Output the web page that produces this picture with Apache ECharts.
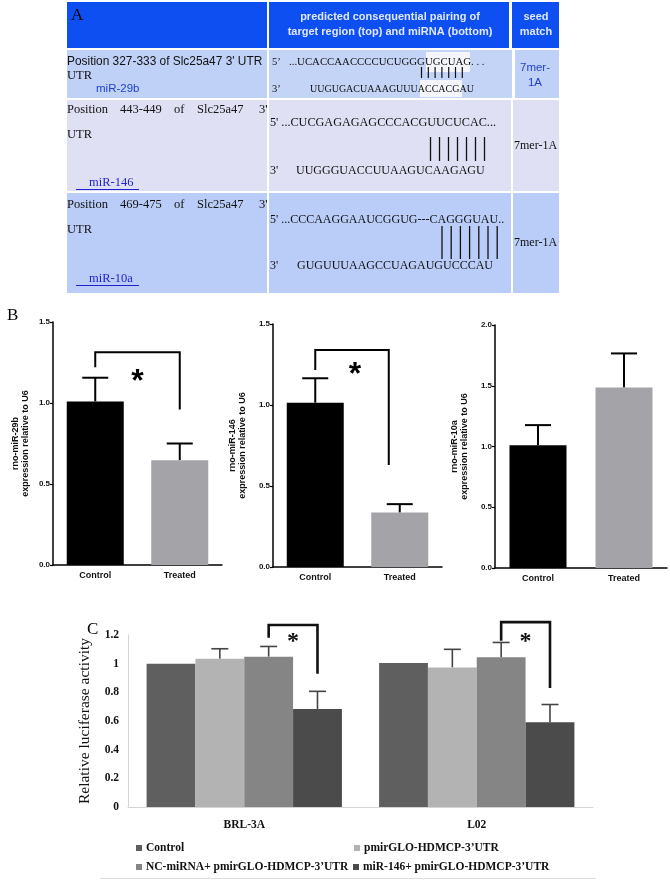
<!DOCTYPE html>
<html><head><meta charset="utf-8">
<script src="https://cdn.jsdelivr.net/npm/echarts@6/dist/echarts.min.js"></script>
<style>html,body{margin:0;padding:0;background:#fff}#c{width:670px;height:884px}</style>
</head><body><div id="c"></div>
<script>
// ---------- Panel B data ----------
const bCategories = ['Control', 'Treated'];
const bBarColors = ['#000000', '#a3a3a8'];
const b1Values = [1.01, 0.647];
const b1Upper  = [1.156, 0.75];
const b2Values = [1.014, 0.336];
const b2Upper  = [1.165, 0.388];
const b3Values = [1.011, 1.486];
const b3Upper  = [1.176, 1.766];
const bYMax = [1.5, 1.5, 2.0];
const bAxisNames = [
  'rno-miR-29b\nexpression relative to U6',
  'rno-miR-146\nexpression relative to U6',
  'rno-miR-10a\nexpression relative to U6'
];
// bracket: [xLeft(cat units), xRight, top, leftBottom, rightBottom, starX, starY]
const b1Bracket = [0, 1, 1.314, 1.22, 0.96, 0.5, 1.17];
const b2Bracket = [0, 0.87, 1.34, 1.216, 0.63, 0.47, 1.227];

// ---------- Panel C data ----------
const cCategories = ['BRL-3A', 'L02'];
const cSeriesNames = ['Control', 'pmirGLO-HDMCP-3\u2019UTR', 'NC-miRNA+ pmirGLO-HDMCP-3\u2019UTR', 'miR-146+ pmirGLO-HDMCP-3\u2019UTR'];
const cColors = ['#5f5f5f', '#b3b3b3', '#858585', '#4b4b4b'];
const cControl = [1.0, 1.005];
const cPmir    = [1.035, 0.974];
const cNC      = [1.049, 1.044];
const cMiR146  = [0.684, 0.592];
const cPmirUpper   = [1.104, 1.10];
const cNCUpper     = [1.12, 1.148];
const cMiR146Upper = [0.807, 0.715];
const cYTicks = [0, 0.2, 0.4, 0.6, 0.8, 1, 1.2];
// bracket: [category, leftBar, rightBar, top, leftBottom, rightBottom, starY]
const cBracketBRL = [0, 2, 3, 1.27, 1.18, 0.93, 1.18];
const cBracketL02 = [1, 2, 3, 1.29, 1.16, 0.83, 1.18];

const SANS = '"Liberation Sans", Arial, sans-serif';
const NARROW = '"Liberation Sans Narrow", "Liberation Sans", Arial, sans-serif';
const SERIF = '"Liberation Serif", "Times New Roman", serif';

// ---------- helpers ----------
function T(text, x, y, font, fill, align) {
  return { type: 'text', silent: true, style: {
    text: text, x: x, y: y, font: font, fill: fill || '#000',
    align: align || 'left', verticalAlign: 'middle',
    textAlign: align || 'left', textVerticalAlign: 'middle' } };
}
function R(x, y, w, h, fill) {
  return { type: 'rect', silent: true, shape: { x: x, y: y, width: w, height: h }, style: { fill: fill } };
}
function L(x1, y1, x2, y2, stroke, lw) {
  return { type: 'line', silent: true, shape: { x1: x1, y1: y1, x2: x2, y2: y2 }, style: { stroke: stroke || '#000', lineWidth: lw || 1 } };
}
function pairLines(x0, step, n, y1, y2, lw) {
  const out = [];
  for (let i = 0; i < n; i++) out.push(L(x0 + i * step, y1, x0 + i * step, y2, '#111', lw || 1.2));
  return out;
}

// ---------- Panel A table (graphic) ----------
const HEAD = '#0d4ff0';
const ROW1 = '#bfd1f7';
const ROW2 = '#e0e0f5';
const ROW3 = '#b9cdf8';
const headFont = 'bold 11px ' + SANS;
const blue = '#1f3fc8';
const linkBlue = '#2323cc';
let tableEls = [
  R(67, 2, 200, 46, HEAD), R(269, 2, 240, 46, HEAD), R(512, 2, 47, 46, HEAD),
  R(67, 50, 200, 48, ROW1), R(269, 50, 243, 48, '#c4d4f6'), R(515, 50, 44, 48, ROW1),
  R(67, 100, 200, 91, ROW2), R(269, 100, 242, 91, ROW2), R(513, 100, 46, 91, ROW2),
  R(67, 193, 200, 100, ROW3), R(269, 193, 242, 100, ROW3), R(513, 193, 46, 100, ROW3),
  // white highlights in row 1
  R(426, 52, 44, 20, '#f4f6fc'), R(420, 80, 42, 17, '#f4f6fc'),
  T('A', 71, 16, '17px ' + SERIF, '#000'),
  T('predicted consequential pairing of', 390, 17, headFont, '#dfe8ff', 'center'),
  T('target region (top) and miRNA (bottom)', 390, 32, headFont, '#dfe8ff', 'center'),
  T('seed', 536, 17, headFont, '#dfe8ff', 'center'),
  T('match', 536, 32, headFont, '#dfe8ff', 'center'),
  // row 1
  T('Position 327-333 of Slc25a47 3\' UTR', 67, 62, '11.9px ' + SANS, '#111'),
  T('UTR', 67, 76, '12.5px ' + SERIF, '#111'),
  T('miR-29b', 96, 89, '11.5px ' + SANS, blue),
  T('5\u2019', 272, 62, '10.5px ' + SERIF, '#111'),
  T('3\u2019', 272, 89, '10.5px ' + SERIF, '#111'),
  T('...UCACCAACCCCUCUGGGUGCUAG. . .', 289, 62, '10.8px ' + SERIF, '#111'),
  T('UUGUGACUAAAGUUUACCACGAU', 310, 89, '10px ' + SERIF, '#111'),
  T('7mer-', 535, 68, '11.5px ' + SANS, blue, 'center'),
  T('1A', 535, 83, '11.5px ' + SANS, blue, 'center'),
  // row 2
  T('Position', 67, 110, '12.5px ' + SERIF, '#111'),
  T('443-449', 120, 110, '12.5px ' + SERIF, '#111'),
  T('of', 174, 110, '12.5px ' + SERIF, '#111'),
  T('Slc25a47', 197, 110, '12.5px ' + SERIF, '#111'),
  T('3\'', 259, 110, '12.5px ' + SERIF, '#111'),
  T('UTR', 67, 135, '12.5px ' + SERIF, '#111'),
  T('miR-146', 89, 183, '12.5px ' + SERIF, linkBlue),
  L(76, 189.5, 139, 189.5, linkBlue, 1),
  T('5\' ...CUCGAGAGAGCCCACGUUCUCAC...', 270, 123, '12.2px ' + SERIF, '#111'),
  T('3\'', 270, 171, '12px ' + SERIF, '#111'),
  T('UUGGGUACCUUAAGUCAAGAGU', 296, 171, '12px ' + SERIF, '#111'),
  T('7mer-1A', 514, 146, '12px ' + SERIF, '#111'),
  // row 3
  T('Position', 67, 205, '12.5px ' + SERIF, '#111'),
  T('469-475', 120, 205, '12.5px ' + SERIF, '#111'),
  T('of', 174, 205, '12.5px ' + SERIF, '#111'),
  T('Slc25a47', 197, 205, '12.5px ' + SERIF, '#111'),
  T('3\'', 259, 205, '12.5px ' + SERIF, '#111'),
  T('UTR', 67, 230, '12.5px ' + SERIF, '#111'),
  T('miR-10a', 89, 279, '12.5px ' + SERIF, linkBlue),
  L(76, 285.5, 139, 285.5, linkBlue, 1),
  T('5\' ...CCCAAGGAAUCGGUG---CAGGGUAU..', 270, 220, '12px ' + SERIF, '#111'),
  T('3\'', 270, 266, '12px ' + SERIF, '#111'),
  T('GUGUUUAAGCCUAGAUGUCCCAU', 297, 266, '12px ' + SERIF, '#111'),
  T('7mer-1A', 514, 243, '12px ' + SERIF, '#111')
];
tableEls = tableEls.concat(pairLines(421.5, 6.8, 7, 67, 78, 1.2));
tableEls = tableEls.concat(pairLines(430.5, 9, 7, 137, 161, 1.3));
tableEls = tableEls.concat(pairLines(442, 9.2, 7, 226, 259, 1.3));

const otherEls = [
  T('B', 7, 316, '17px ' + SERIF, '#000'),
  T('C', 87, 630, '17px ' + SERIF, '#000'),
  L(100, 878.5, 596, 878.5, '#dddddd', 1)
];

// ---------- renderers ----------
function errRender(capW, color, lw) {
  return function (params, api) {
    const x = api.value(0), v = api.value(1), hi = api.value(2);
    const p0 = api.coord([x, v]), p1 = api.coord([x, hi]);
    return { type: 'group', children: [
      { type: 'line', shape: { x1: p0[0], y1: p0[1], x2: p1[0], y2: p1[1] }, style: { stroke: color, lineWidth: lw } },
      { type: 'line', shape: { x1: p1[0] - capW / 2, y1: p1[1], x2: p1[0] + capW / 2, y2: p1[1] }, style: { stroke: color, lineWidth: lw } }
    ] };
  };
}
function bBracketRender(params, api) {
  const xl = api.value(2), xr = api.value(3), top = api.value(1), lb = api.value(4), rb = api.value(5), sx = api.value(6), sy = api.value(7);
  const c0 = api.coord([0, top]), c1 = api.coord([1, top]);
  const X = f => c0[0] + (c1[0] - c0[0]) * f;
  const yT = c0[1], yL = api.coord([0, lb])[1], yR = api.coord([0, rb])[1], yS = api.coord([0, sy])[1];
  const st = { stroke: '#000', lineWidth: 2, fill: null };
  return { type: 'group', children: [
    { type: 'polyline', shape: { points: [[X(xl), yL], [X(xl), yT], [X(xr), yT], [X(xr), yR]] }, style: st },
    { type: 'text', style: { text: '*', x: X(sx), y: yS + 7, font: 'bold 32px ' + SANS, fill: '#000', align: 'center', verticalAlign: 'middle', textAlign: 'center', textVerticalAlign: 'middle' } }
  ] };
}
function cErrRender(params, api) {
  const cat = api.value(0), v = api.value(1), hi = api.value(2), k = api.value(3);
  const bw = api.size([1, 0])[0] * 0.21;
  const p0 = api.coord([cat, v]), p1 = api.coord([cat, hi]);
  const x = p0[0] + (k - 1.5) * bw;
  const st = { stroke: '#444', lineWidth: 1.6 };
  return { type: 'group', children: [
    { type: 'line', shape: { x1: x, y1: p0[1], x2: x, y2: p1[1] }, style: st },
    { type: 'line', shape: { x1: x - 8.5, y1: p1[1], x2: x + 8.5, y2: p1[1] }, style: st }
  ] };
}
function cBracketRender(params, api) {
  const cat = api.value(0), top = api.value(1), lk = api.value(2), rk = api.value(3), lb = api.value(4), rb = api.value(5), sy = api.value(6);
  const bw = api.size([1, 0])[0] * 0.21;
  const c = api.coord([cat, top]);
  const xl = c[0] + (lk - 1.5) * bw, xr = c[0] + (rk - 1.5) * bw;
  const yL = api.coord([cat, lb])[1], yR = api.coord([cat, rb])[1], yS = api.coord([cat, sy])[1];
  return { type: 'group', children: [
    { type: 'polyline', shape: { points: [[xl, yL], [xl, c[1]], [xr, c[1]], [xr, yR]] }, style: { stroke: '#111', lineWidth: 2.6, fill: null } },
    { type: 'text', style: { text: '*', x: (xl + xr) / 2, y: yS + 4, font: 'bold 24px ' + SERIF, fill: '#111', align: 'center', verticalAlign: 'middle', textAlign: 'center', textVerticalAlign: 'middle' } }
  ] };
}

// ---------- axes for panel B ----------
const bGrids = [
  { left: 53, top: 322, width: 169, height: 243 },
  { left: 273, top: 324, width: 169, height: 243 },
  { left: 495, top: 325, width: 172, height: 243 }
];
const bNameGaps = [22, 25, 25];
const xAxes = [], yAxes = [];
for (let i = 0; i < 3; i++) {
  xAxes.push({ type: 'category', gridIndex: i, data: bCategories,
    axisLine: { lineStyle: { color: '#000', width: 1.5 } },
    axisTick: { alignWithLabel: true, length: 3, lineStyle: { color: '#000', width: 1.2 } },
    axisLabel: { color: '#111', fontSize: 9, fontWeight: 'bold', fontFamily: NARROW, margin: 6 } });
  yAxes.push({ type: 'value', gridIndex: i, min: 0, max: bYMax[i], interval: 0.5,
    name: bAxisNames[i], nameLocation: 'middle', nameGap: bNameGaps[i],
    nameTextStyle: { color: '#111', fontSize: 9, fontWeight: 'bold', fontFamily: SANS, lineHeight: 10 },
    axisLine: { show: true, lineStyle: { color: '#000', width: 1.5 } },
    axisTick: { show: true, length: 3, lineStyle: { color: '#000', width: 1.2 } },
    splitLine: { show: false },
    axisLabel: { color: '#111', fontSize: 8, fontWeight: 'bold', fontFamily: NARROW, margin: 3, formatter: v => v.toFixed(1) } });
}
// panel C axes
xAxes.push({ type: 'category', gridIndex: 3, data: cCategories,
  axisLine: { lineStyle: { color: '#d4d4d4', width: 1 } }, axisTick: { show: false },
  axisLabel: { color: '#111', fontSize: 11.5, fontWeight: 'bold', fontFamily: SERIF, margin: 12 } });
yAxes.push({ type: 'value', gridIndex: 3, min: cYTicks[0], max: cYTicks[cYTicks.length - 1], interval: 0.2,
  name: 'Relative luciferase activity', nameLocation: 'middle', nameGap: 35,
  nameTextStyle: { color: '#111', fontSize: 15.5, fontFamily: SERIF },
  axisLine: { show: true, lineStyle: { color: '#d4d4d4', width: 1 } }, axisTick: { show: false },
  splitLine: { show: false },
  axisLabel: { color: '#111', fontSize: 11.5, fontWeight: 'bold', fontFamily: SERIF, margin: 9 } });

const bVals = [b1Values, b2Values, b3Values];
const bUps = [b1Upper, b2Upper, b3Upper];
const series = [];
for (let i = 0; i < 3; i++) {
  series.push({ type: 'bar', xAxisIndex: i, yAxisIndex: i, barWidth: 57, silent: true,
    data: bVals[i].map((v, j) => ({ value: v, itemStyle: { color: bBarColors[j] } })) });
  series.push({ type: 'custom', xAxisIndex: i, yAxisIndex: i, silent: true, clip: false,
    renderItem: errRender(26, '#000', 2),
    data: bVals[i].map((v, j) => [j, v, bUps[i][j]]) });
}
[[0, b1Bracket], [1, b2Bracket]].forEach(([gi, br]) => {
  series.push({ type: 'custom', xAxisIndex: gi, yAxisIndex: gi, silent: true, clip: false,
    renderItem: bBracketRender, encode: { x: 0, y: 1 },
    data: [[0, br[2], br[0], br[1], br[3], br[4], br[5], br[6]]] });
});
const cVals = [cControl, cPmir, cNC, cMiR146];
cVals.forEach((vals, k) => {
  series.push({ type: 'bar', name: cSeriesNames[k], xAxisIndex: 3, yAxisIndex: 3, barWidth: '21%', barGap: '0%', silent: true,
    itemStyle: { color: cColors[k] }, data: vals });
});
const cErrData = [];
[[1, cPmir, cPmirUpper], [2, cNC, cNCUpper], [3, cMiR146, cMiR146Upper]].forEach(([k, vals, ups]) => {
  vals.forEach((v, j) => cErrData.push([j, v, ups[j], k]));
});
series.push({ type: 'custom', xAxisIndex: 3, yAxisIndex: 3, silent: true, clip: false, renderItem: cErrRender,
  encode: { x: 0, y: 1 }, data: cErrData });
series.push({ type: 'custom', xAxisIndex: 3, yAxisIndex: 3, silent: true, clip: false, renderItem: cBracketRender,
  encode: { x: 0, y: 1 },
  data: [cBracketBRL, cBracketL02].map(b => [b[0], b[3], b[1], b[2], b[4], b[5], b[6]]) });

const legendPos = [[136, 842], [354, 842], [136, 861], [353, 861]];
const legends = cSeriesNames.map((n, k) => ({
  data: [n], left: legendPos[k][0], top: legendPos[k][1], padding: 0, itemGap: 0,
  icon: 'rect', itemWidth: 6, itemHeight: 6, selectedMode: false,
  textStyle: { color: '#111', fontSize: 11.5, fontWeight: 'bold', fontFamily: SERIF, padding: [0, 0, 0, -1] }
}));

const chart = echarts.init(document.getElementById('c'), null, { renderer: 'canvas' });
chart.setOption({
  animation: false,
  backgroundColor: '#ffffff',
  grid: bGrids.concat([{ left: 128, right: 77, top: 635, height: 172 }]),
  xAxis: xAxes,
  yAxis: yAxes,
  legend: legends,
  series: series,
  graphic: { elements: tableEls.concat(otherEls) }
});
</script></body></html>
